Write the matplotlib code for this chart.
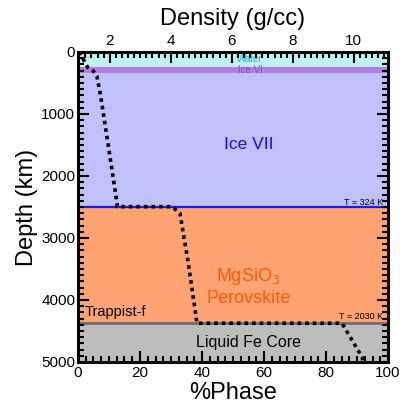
import matplotlib
matplotlib.use("Agg")
import matplotlib.pyplot as plt
from matplotlib.ticker import MultipleLocator

plt.rcParams["font.family"] = ["Liberation Sans", "DejaVu Sans"]

# ---------------------------------------------------------------------------
# Layer structure (depth in km)
# ---------------------------------------------------------------------------
layer_names = ["Water", "Ice VI", "Ice VII", "Perovskite", "Core"]
layer_top = [0, 240, 335, 2495, 4375]
layer_bottom = [240, 335, 2495, 4375, 5000]
layer_colors = ["#bdf1f0", "#b27fe0", "#c0c0fa", "#ffa372", "#bdbdbd"]

# Density profile (g/cc) vs depth (km)
profile_depth = [0, 250, 300, 390, 700, 1500, 2440, 2495, 2495, 2600, 3390, 4375, 4375, 4920, 5000]
profile_density = [1.0, 1.28, 1.45, 1.58, 1.70, 1.95, 2.24, 2.24, 4.04, 4.30, 4.57, 4.86, 9.61, 10.27, 10.30]

# boundary temperatures
temp_labels = ["T = 324 K", "T = 2030 K"]
temp_depths = [2420, 4265]

fig = plt.figure(figsize=(4.09, 4.18), dpi=100)
ax = fig.add_axes([0.1907, 0.134, 0.758, 0.7416])

for top, bot, col in zip(layer_top, layer_bottom, layer_colors):
    ax.axhspan(top, bot, color=col, lw=0, zorder=0)
ax.axhline(layer_top[3], color="#1a1aff", lw=1.6, zorder=1)
ax.axhline(layer_top[4], color="#6e6e6e", lw=2.0, zorder=1)

ax.set_xlim(0, 100)
ax.set_ylim(5000, 0)
ax.set_xlabel("%Phase", fontsize=17, labelpad=1)
ax.set_ylabel("Depth (km)", fontsize=17, labelpad=2)

ax.xaxis.set_major_locator(MultipleLocator(20))
ax.xaxis.set_minor_locator(MultipleLocator(2.5))
ax.yaxis.set_major_locator(MultipleLocator(1000))
ax.yaxis.set_minor_locator(MultipleLocator(100))
ax.tick_params(which="both", direction="in", right=True, width=1.5, labelsize=11)
ax.tick_params(axis="x", which="both", top=False)
ax.tick_params(which="major", length=8)
ax.tick_params(which="minor", length=4)
ax.tick_params(axis="x", pad=3)
ax.tick_params(axis="y", pad=2)
for s in ax.spines.values():
    s.set_linewidth(2)

# labels
ax.text(55.5, 120, "Water", color="#22b4ff", fontsize=7, ha="center", va="center")
ax.text(55.5, 290, "Ice VI", color="#9a3fd0", fontsize=7, ha="center", va="center")
ax.text(55, 1500, "Ice VII", color="#1010f0", fontsize=12.5, ha="center", va="center")
ax.text(55, 3620, "MgSiO$_3$", color="#ff5a0a", fontsize=13, ha="center", va="center")
ax.text(55, 3980, "Perovskite", color="#ff5a0a", fontsize=13, ha="center", va="center")
ax.text(55, 4690, "Liquid Fe Core", color="black", fontsize=11.5, ha="center", va="center")
ax.text(2.0, 4200, "Trappist-f", color="black", fontsize=10.5, ha="left", va="center")
for lab, d in zip(temp_labels, temp_depths):
    ax.text(98.5, d, lab, color="black", fontsize=6.5, ha="right", va="center")

# density axis on top
ax2 = ax.twiny()
ax2.plot(profile_density, profile_depth, color="black", lw=2.6,
         linestyle=(0, (1, 1.1)), zorder=3)
ax2.set_xlim(0.96, 11.12)
ax2.set_ylim(5000, 0)
ax2.set_xlabel("Density (g/cc)", fontsize=17, labelpad=6)
ax2.xaxis.set_major_locator(MultipleLocator(2))
ax2.xaxis.set_minor_locator(MultipleLocator(0.2))
ax2.tick_params(which="both", direction="in", width=1.5, labelsize=11, pad=3)
ax2.tick_params(which="major", length=8)
ax2.tick_params(which="minor", length=4)
for s in ax2.spines.values():
    s.set_linewidth(2)

fig.savefig("out.png", dpi=100)
